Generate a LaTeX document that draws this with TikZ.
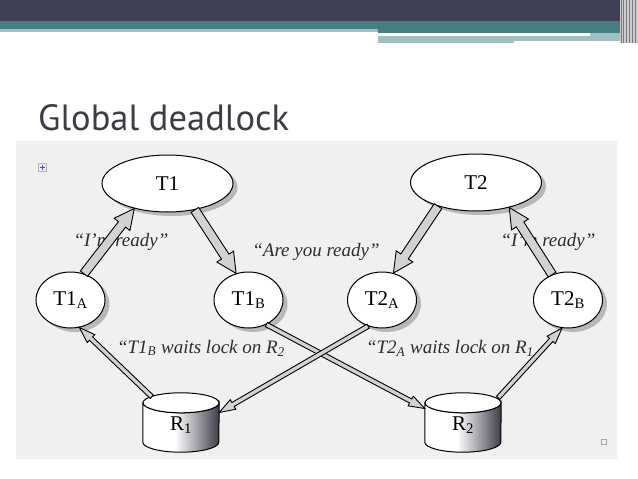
\documentclass[tikz,border=0pt]{standalone}
\usepackage{fontspec}
\setmainfont{Liberation Serif}
\newfontfamily\titlefont{PT Sans}
\usetikzlibrary{calc,shadows,shapes.geometric}

\definecolor{topdark}{RGB}{64,64,84}
\definecolor{topteal}{RGB}{70,126,130}
\definecolor{lightteal}{RGB}{163,190,193}
\definecolor{bggray}{RGB}{240,240,240}
\definecolor{titlecol}{RGB}{60,60,74}
\definecolor{labelcol}{RGB}{45,45,45}
\definecolor{cylmid}{RGB}{150,150,158}
\definecolor{cyldark}{RGB}{60,60,72}
\pgfdeclarehorizontalshading{cylshade}{100bp}{color(0bp)=(white); color(25bp)=(white); color(46bp)=(white); color(62bp)=(cylmid); color(75bp)=(cyldark); color(100bp)=(cyldark)}

\tikzset{
  tnode/.style={ellipse,draw=black,line width=1pt,fill=white,inner sep=0pt,
    font=\fontsize{21}{21}\selectfont,
    drop shadow={shadow xshift=4.5pt,shadow yshift=-4pt,fill=gray!85,opacity=0.6}},
  bignode/.style={tnode,minimum width=131pt,minimum height=57pt},
  smallnode/.style={tnode,minimum width=69pt,minimum height=56pt},
  resnode/.style={rectangle,inner sep=0pt,minimum width=76pt,minimum height=59pt},
  restext/.style={font=\fontsize{21}{21}\selectfont},
  msg/.style={font=\itshape\fontsize{19}{19}\selectfont,text=labelcol,inner sep=0pt},
  arrbody/.style={draw=black,line width=0.9pt,fill=gray!35,line join=miter},
  cylbody/.style={draw=black,line width=1pt,shading=cylshade},
}

% fat hollow arrow: from, to, half shaft width, half head width, head length
\newcommand{\fatarrow}[5]{%
  \coordinate (fa-h) at ($(#2)!#5!(#1)$);
  \filldraw[arrbody] ($(#1)!#3!90:(#2)$) -- ($(fa-h)!#3!-90:(#1)$) --
    ($(fa-h)!#4!-90:(#1)$) -- (#2) -- ($(fa-h)!#4!90:(#1)$) --
    ($(fa-h)!#3!90:(#1)$) -- ($(#1)!#3!-90:(#2)$) -- cycle;}

% cylinder drawn on an invisible rectangle node
\newcommand{\cyl}[1]{%
  \draw[cylbody] ([yshift=-10pt]#1.north west) -- ([yshift=10pt]#1.south west)
    arc[start angle=180,end angle=360,x radius=38pt,y radius=10pt]
    -- ([yshift=-10pt]#1.north east)
    arc[start angle=0,end angle=-180,x radius=38pt,y radius=10pt] -- cycle;
  \draw[fill=white,line width=1pt] ([yshift=-10pt]#1.north) ellipse[x radius=38pt,y radius=10pt];}

\begin{document}
\begin{tikzpicture}[x=1pt,y=1pt]
\useasboundingbox (0,0) rectangle (638,-479);
\fill[white] (0,0) rectangle (638,-479);

% header bars
\fill[topdark] (0,0) rectangle (638,-21);
\fill[topteal] (0,-21) rectangle (638,-29);
\fill[lightteal] (0,-29) rectangle (378,-31.5);
\fill[topteal] (378,-29) rectangle (638,-33);
\fill[white] (378,-33) rectangle (590,-36);
\fill[lightteal] (590,-33) rectangle (620,-36);
\fill[lightteal] (378,-36) rectangle (514,-43);
\fill[lightteal] (514,-36) rectangle (620,-41);
\fill[gray!40] (620,0) rectangle (638,-43);
\foreach \xx in {621,623,626,629,632,635}{\draw[topdark!70,line width=0.6pt] (\xx,0) -- (\xx,-43);}

% title
\node[anchor=base west,inner sep=0pt,text=titlecol,font=\titlefont\fontsize{36.5}{36.5}\selectfont] (title) at (38,-130) {Global deadlock};

% diagram background
\fill[bggray] (16,-141) rectangle (617,-459);
\draw[gray!60,fill=blue!8] (38,-163) rectangle (46,-171);
\draw[blue!40!gray,line width=0.8pt] (42,-164.5) -- (42,-169.5) (39.5,-167) -- (44.5,-167);
\draw[gray!70] (601,-439) rectangle (606,-444);

% nodes
\node[bignode] (T1) at (167.5,-183.5) {T1};
\node[bignode] (T2) at (476,-182.5) {T2};
\node[smallnode] (T1A) at (70.5,-300) {T1\textsubscript{A}};
\node[smallnode] (T1B) at (248.5,-300) {T1\textsubscript{B}};
\node[smallnode] (T2A) at (382,-300) {T2\textsubscript{A}};
\node[smallnode] (T2B) at (568,-300) {T2\textsubscript{B}};
\node[resnode] (R1) at (181,-422.5) {};
\node[resnode] (R2) at (463,-422.5) {};
\cyl{R1}
\cyl{R2}
\node[restext] (R1t) at ([yshift=-3pt]R1.center) {R\textsubscript{1}};
\node[restext] (R2t) at ([yshift=-3pt]R2.center) {R\textsubscript{2}};

% labels
\node[msg] (m1) at (121,-242) {“I’m ready”};
\node[msg] (m2) at (316,-252) {“Are you ready”};
\node[msg] (m3) at (548,-242) {“I’m ready”};
\node[msg] (m4) at (201,-348) {“T1\textsubscript{B} waits lock on R\textsubscript{2}};
\node[msg] (m5) at (450,-348) {“T2\textsubscript{A} waits lock on R\textsubscript{1}};

% connectors
\fatarrow{T1A.63}{T1.217}{4.5pt}{10pt}{20pt}
\fatarrow{T1.316}{T1B.115}{4.5pt}{10pt}{20pt}
\fatarrow{T2.212.6}{T2A.67}{4.5pt}{10pt}{20pt}
\fatarrow{T2B.122}{T2.323}{4.5pt}{10pt}{20pt}

\coordinate (r1t) at ([xshift=9pt,yshift=-4pt]R1.north west);
\coordinate (r1r) at ([yshift=10pt]R1.east);
\coordinate (r2l) at ([yshift=14pt]R2.west);
\coordinate (r2t) at ([xshift=-3pt,yshift=-5pt]R2.north east);
\fatarrow{r1t}{T1A.288}{2.3pt}{5.5pt}{16pt}
\fatarrow{T1B.306}{r2l}{2.3pt}{5.5pt}{16pt}
\fatarrow{T2A.242}{r1r}{2.3pt}{5.5pt}{16pt}
\fatarrow{r2t}{T2B.258}{2.3pt}{5.5pt}{16pt}
\end{tikzpicture}
\end{document}
